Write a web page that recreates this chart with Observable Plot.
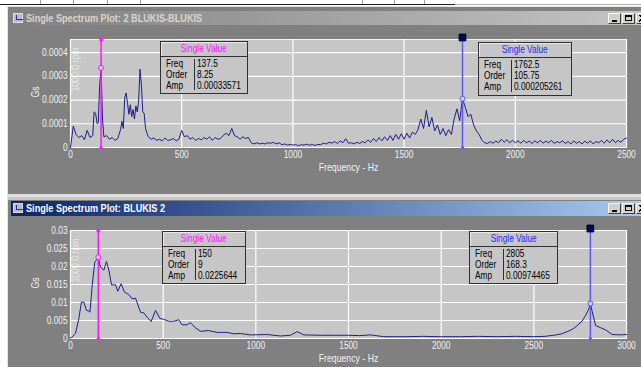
<!DOCTYPE html>
<html><head><meta charset="utf-8">
<script src="https://cdn.jsdelivr.net/npm/d3@7"></script>
<script src="https://cdn.jsdelivr.net/npm/@observablehq/plot@0.6"></script>
<style>
body{margin:0;width:641px;height:367px;overflow:hidden;background:#fff;position:relative;font-family:'Liberation Sans',Arial,sans-serif;}
.a{position:absolute}
.win{position:absolute;left:7px;right:-20px;background:#808080;border-left:1px solid #e4e4e4;border-top:1px solid #e4e4e4;}
.title{position:absolute;left:11px;right:0;font-weight:bold;font-size:10.5px;padding-left:15px;box-sizing:border-box;white-space:nowrap}
.sq{display:inline-block;transform:scaleX(0.83);transform-origin:0 50%;white-space:nowrap}
.title .sq{transform:scaleX(0.87)}
.icon{position:absolute;left:2px;top:2px;width:10px;height:10px;background:#b8b8c8;border:1px solid #e0e0e0;box-sizing:border-box}
.icon i{position:absolute;left:2px;bottom:2px;width:6px;height:4px;border-left:1px solid #2030c0;border-bottom:1px solid #2030c0}
.btn{position:absolute;width:13px;height:11px;background:#d4d0c8;border-top:1px solid #fff;border-left:1px solid #fff;border-right:1px solid #404040;border-bottom:1px solid #404040;box-sizing:border-box}
.btn.min::after{content:"";position:absolute;left:3px;top:6px;width:5px;height:2px;background:#000}
.btn.max::after{content:"";position:absolute;left:2px;top:1px;width:7px;height:6px;border:1px solid #000;border-top-width:2px;box-sizing:border-box}
.btn.cls{background:linear-gradient(45deg,transparent 44%,#000 44%,#000 58%,transparent 58%),linear-gradient(-45deg,transparent 44%,#000 44%,#000 58%,transparent 58%),#d4d0c8;background-size:7px 7px,7px 7px,auto;background-position:2px 1px,2px 1px,0 0;background-repeat:no-repeat}
.box{position:absolute;background:#c6c6c6;border:1px solid #303030;box-sizing:border-box;font-size:10px;color:#000}
.box .hd{position:absolute;left:0;right:0;top:0;height:14px;border-bottom:1px solid #303030;box-shadow:inset 1px 1px 0 #e8e8e8;text-align:center;line-height:13px}
.box .hd .sq{transform-origin:50% 50%}
.box .dv{position:absolute;top:17px;bottom:3px;width:1px;background:#303030}
.box .t{position:absolute;line-height:11px}
</style>
</head><body>
<script>
// ---------- data: top spectrum (2 BLUKIS-BLUKIS), amplitude in 1e-4 Gs ----------
const topFreqHz = [0,12.5,25,37.5,50,62.5,75,87.5,100,106,112.5,120,125,131,137.5,144,150,162.5,175,187.5,200,212.5,225,231,237.5,244,250,256,262.5,269,275,281,287.5,294,300,306,312.5,319,325,331,337.5,344,350,362.5,375,387.5,400,412.5,425,437.5,450,462.5,475,487.5,500,512.5,525,537.5,550,562.5,575,587.5,600,612.5,625,637.5,650,662.5,675,687.5,700,712.5,725,737.5,750,762.5,775,787.5,800,812.5,825,837.5,850,862.5,875,887.5,900,912.5,925,937.5,950,962.5,975,987.5,1000,1012.5,1025,1037.5,1050,1062.5,1075,1087.5,1100,1112.5,1125,1137.5,1150,1162.5,1175,1187.5,1200,1212.5,1225,1237.5,1250,1262.5,1275,1287.5,1300,1312.5,1325,1337.5,1350,1362.5,1375,1387.5,1400,1412.5,1425,1437.5,1450,1462.5,1475,1487.5,1500,1512.5,1525,1537.5,1550,1562.5,1575,1587.5,1600,1612.5,1625,1637.5,1650,1662.5,1675,1687.5,1700,1712.5,1725,1737.5,1750,1762.5,1775,1787.5,1800,1812.5,1825,1837.5,1850,1862.5,1875,1887.5,1900,1912.5,1925,1937.5,1950,1962.5,1975,1987.5,2000,2012.5,2025,2037.5,2050,2062.5,2075,2087.5,2100,2112.5,2125,2137.5,2150,2162.5,2175,2187.5,2200,2212.5,2225,2237.5,2250,2262.5,2275,2287.5,2300,2312.5,2325,2337.5,2350,2362.5,2375,2387.5,2400,2412.5,2425,2437.5,2450,2462.5,2475,2487.5,2500];
const topAmpE4 = [0,0.9,0.55,0.42,0.5,0.33,0.72,0.42,0.5,1.5,1.45,1.0,1.05,2.6,3.36,1.2,0.45,0.5,0.35,0.42,0.3,0.38,0.75,1.1,0.8,2.1,2.3,1.9,1.4,1.8,1.3,1.6,1.2,1.75,1.5,1.9,3.3,2.6,1.5,1.45,0.8,0.6,0.45,0.35,0.4,0.3,0.35,0.28,0.4,0.3,0.32,0.38,0.28,0.35,0.72,0.45,0.5,0.35,0.42,0.3,0.38,0.32,0.42,0.35,0.45,0.3,0.42,0.35,0.38,0.52,0.6,0.5,0.8,0.5,0.45,0.35,0.45,0.38,0.42,0.2,0.15,0.2,0.15,0.18,0.15,0.2,0.18,0.22,0.15,0.2,0.12,0.15,0.1,0.13,0.1,0.12,0.08,0.12,0.1,0.14,0.1,0.12,0.09,0.13,0.12,0.18,0.15,0.22,0.18,0.25,0.17,0.28,0.2,0.37,0.18,0.2,0.15,0.22,0.17,0.25,0.2,0.32,0.22,0.38,0.25,0.42,0.28,0.45,0.3,0.5,0.3,0.55,0.35,0.58,0.35,0.6,0.4,0.65,0.55,0.75,1.2,0.8,1.56,0.87,1.27,0.7,0.95,0.55,0.8,0.5,0.75,0.55,1.2,1.63,1.13,2.05,1.7,1.3,1.4,0.95,0.7,0.55,0.3,0.2,0.17,0.25,0.18,0.27,0.2,0.35,0.22,0.33,0.2,0.3,0.2,0.28,0.18,0.3,0.2,0.27,0.17,0.28,0.2,0.3,0.18,0.27,0.2,0.3,0.17,0.25,0.2,0.28,0.17,0.25,0.15,0.28,0.18,0.25,0.15,0.27,0.18,0.28,0.15,0.25,0.2,0.3,0.18,0.32,0.2,0.35,0.2,0.3,0.22,0.35,0.4];
const topXTicks = [0,500,1000,1500,2000,2500];
const topYTicks = [0,0.0001,0.0002,0.0003,0.0004];
const topYTickLabels = ["0","0.0001","0.0002","0.0003","0.0004"];
const topCursorFreq = [137.5, 1762.5];
const topCursorOrder = ["8.25", "105.75"];
const topCursorAmp = [0.00033571, 0.000205261];
const topCursorAmpText = ["0.00033571", "0.000205261"];

// ---------- data: bottom spectrum (BLUKIS 2), amplitude in 1e-3 Gs ----------
const botFreqHz = [0,5,27,45,59,72,86,99,105,117,131,140,150,162,180,194,207,221,243,255,273,291,315,333,351,378,396,414,435,459,482,503,531,557,584,602,630,648,671,701,746,791,845,881,917,971,1061,1133,1187,1223,1259,1349,1420,1493,1560,1619,1690,1750,1816,1900,2000,2100,2200,2300,2400,2500,2560,2608,2650,2680,2710,2734,2760,2779,2795,2805,2815,2833,2860,2887,2923,2960,3000];
const botAmpE3 = [0.3,0.2,1.4,5.5,10.1,10.1,7.8,7.7,7.3,14.7,21.2,21.8,22.56,19.8,19.0,21.4,19.0,14.9,14.9,13.1,15.2,12.9,12.2,11.0,11.2,7.3,7.1,5.9,4.7,7.8,5.6,5.3,4.8,4.8,5.2,3.8,3.8,4.4,3.1,2.0,2.2,1.7,1.7,1.3,1.4,1.0,1.1,0.7,0.9,1.9,1.0,0.9,0.9,0.9,0.8,1.0,0.5,0.5,0.5,0.6,0.5,0.5,0.6,0.5,0.6,0.5,0.6,0.9,1.3,1.9,2.6,3.6,4.8,6.4,8.0,9.74,7.5,3.6,3.0,2.4,1.1,1.0,1.1];
const botXTicks = [0,500,1000,1500,2000,2500,3000];
const botYTicks = [0,0.005,0.01,0.015,0.02,0.025,0.03];
const botYTickLabels = ["0","0.005","0.01","0.015","0.02","0.025","0.03"];
const botCursorFreq = [150, 2805];
const botCursorOrder = ["9", "168.3"];
const botCursorAmp = [0.0225644, 0.00974465];
const botCursorAmpText = ["0.0225644", "0.00974465"];

const titles = ["Single Spectrum Plot: 2 BLUKIS-BLUKIS", "Single Spectrum Plot: BLUKIS 2"];
const boxHeader = "Single Value";
const rowLabels = ["Freq", "Order", "Amp"];
const xLabel = "Frequency - Hz";
const yLabel = "Gs";
const watermark = "1000.0 rpm";

const FONT = "'Liberation Sans',Arial,sans-serif";
const MAG = "#ff14ff", BLU = "#5a5aff";
const SQUEEZE = 0.83;

function el(tag, cls, css, txt, parent) {
  const e = document.createElement(tag);
  if (cls) e.className = cls;
  if (css) e.style.cssText = css;
  if (txt != null) { const s = document.createElement("span"); s.className = "sq"; s.textContent = txt; e.appendChild(s); }
  (parent || document.body).appendChild(e);
  return e;
}

// page chrome
el("div", "a", "left:0;top:4px;width:455px;height:1px;background:#202020");
el("div", "a", "left:455px;top:4px;width:186px;height:1px;background:#b0b0b0");
[40,73,107,140,362,394,424].forEach(x => el("div","a",`left:${x}px;top:0;width:1px;height:4px;background:#a0a0a0`));
el("div", "win", "top:6px;height:188px");
el("div", "a", "left:7px;top:194px;width:634px;height:2px;background:#e0e0e0");
el("div", "win", "top:196px;height:200px;background:#808080");
el("div", "a", "left:8px;top:197px;width:633px;height:3px;background:#c8c8c8");

function titleBar(top, h, text, bg, color) {
  const t = el("div", "title", `top:${top}px;height:${h}px;line-height:${h}px;background:${bg};color:${color}`, text);
  const ic = document.createElement("div"); ic.className = "icon"; ic.appendChild(document.createElement("i")); t.appendChild(ic);
  const by = top + Math.round((h - 11) / 2);
  el("div", "btn min", `left:608px;top:${by}px`);
  el("div", "btn max", `left:622px;top:${by}px`);
  el("div", "btn cls", `left:636px;top:${by}px`);
}
titleBar(11, 14, titles[0], "linear-gradient(to right,#808080,#c4c4c4)", "#d8d4cc");
titleBar(201, 15, titles[1], "linear-gradient(to right,#0a246a,#a6caf0)", "#ffffff");

function spectrum(top, freqs, amps, scale, xMax, yTop, xTicks, yTicks, yLabels, cf, ca) {
  const data = freqs.map((f, i) => ({f, a: amps[i] * scale}));
  const cur = cf.map((f, i) => ({f, a: ca[i]}));
  const svg = Plot.plot({
    width: 641, height: 170,
    marginLeft: 70, marginRight: 15, marginTop: 14, marginBottom: 48,
    style: {background: "transparent", color: "#f2f2f2", fontFamily: FONT, fontSize: "10px", overflow: "visible"},
    x: {domain: [0, xMax]},
    y: {domain: [0, yTop]},
    marks: [
      Plot.frame({fill: "#c6c6c6", stroke: "#f4f4f4"}),
      Plot.gridX(xTicks, {stroke: "#fff", strokeOpacity: 1, strokeWidth: 1.2}),
      Plot.gridY(yTicks, {stroke: "#fff", strokeOpacity: 1, strokeWidth: 1.2}),
      Plot.text([watermark], {frameAnchor: "top-left", lineAnchor: "middle", rotate: -90, textAnchor: "end", dx: 5, dy: 8, fill: "#fff", fillOpacity: 0.6, fontSize: 10.5}),
      Plot.line(data, {x: "f", y: "a", stroke: "#1e1e8c", strokeWidth: 1}),
      Plot.ruleX([cur[0]], {x: "f", y1: 0, y2: yTop, stroke: MAG, strokeWidth: 1.5}),
      Plot.ruleX([cur[1]], {x: "f", y1: 0, y2: yTop, stroke: BLU, strokeWidth: 1.5}),
      Plot.dot([cur[0]], {x: "f", y: () => yTop, r: 2, fill: MAG, symbol: "square"}),
      Plot.dot([cur[0]], {x: "f", y: () => 0, r: 1.6, fill: MAG}),
      Plot.dot([cur[0]], {x: "f", y: "a", r: 2.5, stroke: MAG, fill: "#d0d0d0", strokeWidth: 1}),
      Plot.dot([cur[1]], {x: "f", y: () => 0, r: 1.6, fill: BLU}),
      Plot.dot([cur[1]], {x: "f", y: "a", r: 2.5, stroke: BLU, fill: "#d0d0d0", strokeWidth: 1}),
      Plot.dot([cur[1]], {x: "f", y: () => yTop, r: 3.8, fill: "#00006e", stroke: "#000", strokeWidth: 1, symbol: "square", dy: -2}),
      Plot.axisX(xTicks, {tickSize: 0, tickPadding: 3, label: null, tickFormat: d => String(d)}),
      Plot.axisY(yTicks, {tickSize: 0, tickPadding: 3, label: null, tickFormat: d => yLabels[yTicks.indexOf(d)]}),
      Plot.text([xLabel], {frameAnchor: "bottom", lineAnchor: "middle", dy: 20, fill: "#f2f2f2", fontSize: 10.5}),
      Plot.text([yLabel], {frameAnchor: "left", lineAnchor: "middle", dx: -35, dy: 4, rotate: -90, fill: "#f2f2f2", fontSize: 10.5})
    ]
  });
  svg.style.position = "absolute";
  svg.style.left = "0px";
  svg.style.top = top + "px";
  document.body.appendChild(svg);
  // narrow the glyphs (the reference uses a condensed sans)
  svg.querySelectorAll("text").forEach(t => {
    const L = t.getComputedTextLength();
    if (L > 0) { t.setAttribute("textLength", (L * SQUEEZE).toFixed(2)); t.setAttribute("lengthAdjust", "spacingAndGlyphs"); }
  });
}

spectrum(25, topFreqHz, topAmpE4, 1e-4, 2500, 0.000455, topXTicks, topYTicks, topYTickLabels, topCursorFreq, topCursorAmp);
spectrum(216, botFreqHz, botAmpE3, 1e-3, 3000, 0.03, botXTicks, botYTicks, botYTickLabels, botCursorFreq, botCursorAmp);

function infoBox(left, top, w, h, div, color, vals) {
  const b = el("div", "box", `left:${left}px;top:${top}px;width:${w}px;height:${h}px`);
  el("div", "hd", `color:${color}`, boxHeader, b);
  el("div", "dv", `left:${div}px`, null, b);
  rowLabels.forEach((lab, i) => {
    const y = 16 + i * 11;
    el("div", "t", `left:5px;top:${y}px`, lab, b);
    el("div", "t", `left:${div + 3}px;top:${y}px`, vals[i], b);
  });
}
infoBox(160, 41, 88, 53, 33, MAG, [String(topCursorFreq[0]), topCursorOrder[0], topCursorAmpText[0]]);
infoBox(478, 42, 94, 54, 32, "#2a2aff", [String(topCursorFreq[1]), topCursorOrder[1], topCursorAmpText[1]]);
infoBox(162, 231, 84, 53, 32, MAG, [String(botCursorFreq[0]), botCursorOrder[0], botCursorAmpText[0]]);
infoBox(469, 231, 89, 53, 33, "#2a2aff", [String(botCursorFreq[1]), botCursorOrder[1], botCursorAmpText[1]]);
</script>
</body></html>
